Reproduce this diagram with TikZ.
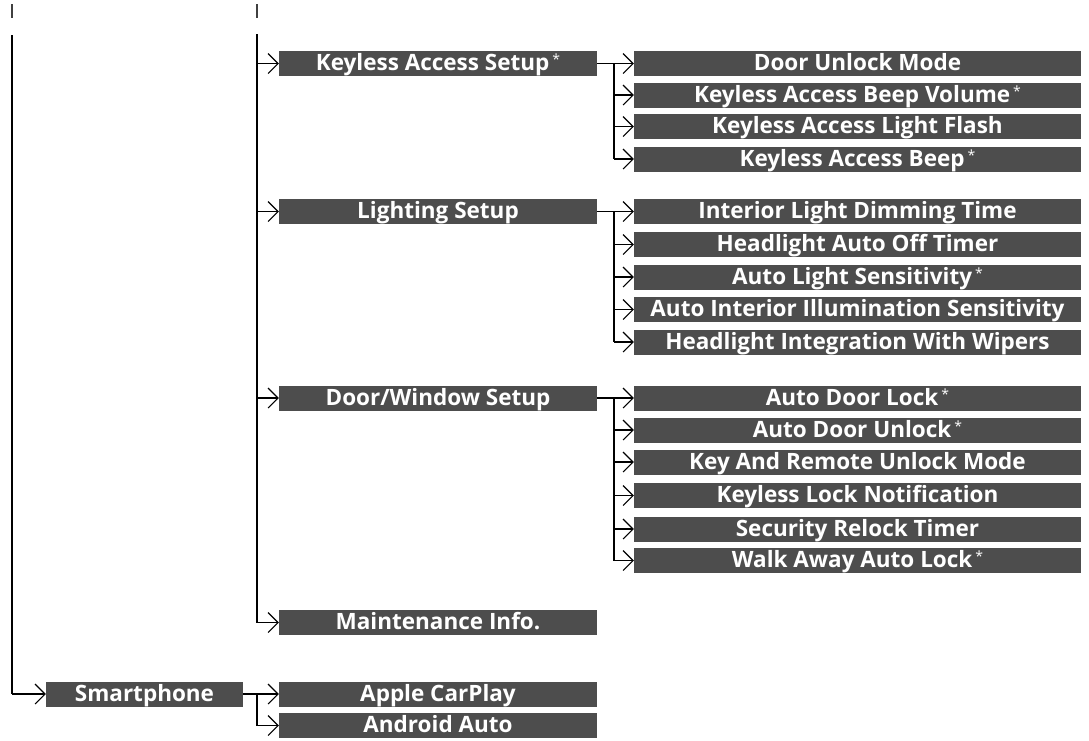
\documentclass[tikz,border=0pt]{standalone}
\usepackage{fontspec}
\setmainfont{Open Sans}
\usetikzlibrary{arrows.meta}
\definecolor{boxgray}{RGB}{77,77,77}
\newcommand{\fnstar}{\hspace{3pt}\raisebox{6pt}{\fontsize{14}{14}\selectfont\mdseries *}}
\tikzset{
  menubox/.style={rectangle, fill=boxgray, text=white, inner sep=0pt,
    minimum height=25pt, text height=17pt, text depth=2.6pt,
    font=\fontsize{22.5}{22.5}\selectfont\bfseries},
  lvtwo/.style={menubox, minimum width=318pt},
  lvthree/.style={menubox, minimum width=447pt},
  ln/.style={line width=1.8pt, black},
  arr/.style={ln, -{Straight Barb[length=10pt, width=20pt, line width=1.1pt]}},
  tick/.style={line width=1.8pt, black!75}
}
\begin{document}
\begin{tikzpicture}[x=1pt, y=-1pt]
\useasboundingbox (0,0) rectangle (1089,740);
% top ticks
\coordinate (t1a) at (12,4); \coordinate (t1b) at (12,18);
\coordinate (t2a) at (257,4); \coordinate (t2b) at (257,18);
\draw[tick] (t1a) -- (t1b);
\draw[tick] (t2a) -- (t2b);
% trunk starts
\coordinate (trA) at (12,35);
\coordinate (trB) at (257,34);
\coordinate (bx) at (614,0);
\coordinate (bs) at (257,0);
% level 2
\node[lvtwo] (kas) at (438,63.5) {Keyless Access Setup\fnstar};
\node[lvtwo] (lts) at (438,211.5) {Lighting Setup};
\node[lvtwo] (dws) at (438,398) {Door/Window Setup};
\node[lvtwo] (mnt) at (438,622.5) {Maintenance Info.};
\node[menubox, minimum width=197pt] (smp) at (144.5,694) {Smartphone};
\node[lvtwo] (acp) at (438,694) {Apple CarPlay};
\node[lvtwo] (aad) at (438,725.5) {Android Auto};
% level 3 keyless
\node[lvthree] (k1) at (857.5,63.5) {Door Unlock Mode};
\node[lvthree] (k2) at (857.5,95) {Keyless Access Beep Volume\fnstar};
\node[lvthree] (k3) at (857.5,126.5) {Keyless Access Light Flash};
\node[lvthree] (k4) at (857.5,159) {Keyless Access Beep\fnstar};
% level 3 lighting
\node[lvthree] (l1) at (857.5,211.5) {Interior Light Dimming Time};
\node[lvthree] (l2) at (857.5,244.5) {Headlight Auto Off Timer};
\node[lvthree] (l3) at (857.5,277) {Auto Light Sensitivity\fnstar};
\node[lvthree] (l4) at (857.5,309.5) {Auto Interior Illumination Sensitivity};
\node[lvthree] (l5) at (857.5,342) {Headlight Integration With Wipers};
% level 3 door
\node[lvthree] (d1) at (857.5,398) {Auto Door Lock\fnstar};
\node[lvthree] (d2) at (857.5,430) {Auto Door Unlock\fnstar};
\node[lvthree] (d3) at (857.5,462) {Key And Remote Unlock Mode};
\node[lvthree] (d4) at (857.5,495.5) {Keyless Lock Notification};
\node[lvthree] (d5) at (857.5,529) {Security Relock Timer};
\node[lvthree] (d6) at (857.5,560.5) {Walk Away Auto Lock\fnstar};
% trunk A
\draw[ln] (trA) -- (trA |- smp.west);
\draw[arr] (trA |- smp.west) -- (smp.west);
% trunk B
\draw[ln] (trB) -- (trB |- mnt.west);
\foreach \n in {kas,lts,dws,mnt} \draw[arr] (bs |- \n.west) -- (\n.west);
% smartphone branch
\draw[ln] (smp.east) -- (bs |- smp.east) -- (bs |- aad.west);
\foreach \n in {acp,aad} \draw[arr] (bs |- \n.west) -- (\n.west);
% level-3 branches
\draw[ln] (kas.east) -- (bx |- kas.east) -- (bx |- k4.west);
\foreach \n in {k1,k2,k3,k4} \draw[arr] (bx |- \n.west) -- (\n.west);
\draw[ln] (lts.east) -- (bx |- lts.east) -- (bx |- l5.west);
\foreach \n in {l1,l2,l3,l4,l5} \draw[arr] (bx |- \n.west) -- (\n.west);
\draw[ln] (dws.east) -- (bx |- dws.east) -- (bx |- d6.west);
\foreach \n in {d1,d2,d3,d4,d5,d6} \draw[arr] (bx |- \n.west) -- (\n.west);
\end{tikzpicture}
\end{document}
